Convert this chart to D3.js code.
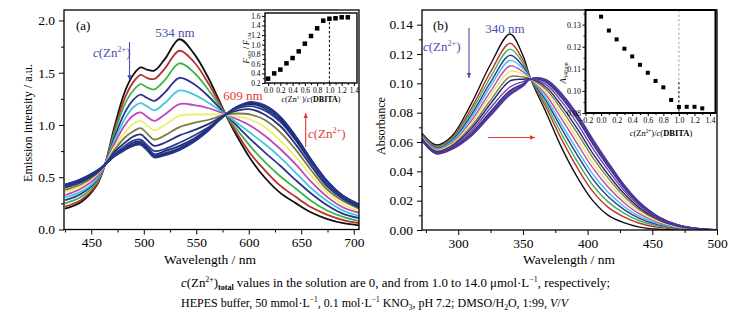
<!DOCTYPE html>
<html>
<head>
<meta charset="utf-8">
<script src="https://cdn.jsdelivr.net/npm/d3@7"></script>
<style>
  body { margin: 0; background: #fff; }
  svg { font-family: "Liberation Serif", "Times New Roman", serif; }
</style>
</head>
<body>
<svg id="chart" width="739" height="320"></svg>
<script>
// ---- panel (a): emission spectra ----
const wlA = [425, 440, 455, 463, 472, 482, 490, 497, 503, 510, 520, 534, 548, 562, 578, 590, 602, 615, 630, 645, 660, 675, 690, 705];
const emission = [
  [.20, .26, .42, .62, .98, 1.32, 1.48, 1.55, 1.53, 1.52, 1.63, 1.82, 1.68, 1.44, 1.10, .87, .67, .50, .35, .25, .16, .10, .06, .04],
  [.22, .28, .43, .62, .95, 1.26, 1.41, 1.48, 1.45, 1.44, 1.54, 1.71, 1.60, 1.39, 1.10, .90, .72, .57, .42, .31, .21, .14, .09, .06],
  [.25, .31, .45, .62, .92, 1.20, 1.33, 1.39, 1.36, 1.34, 1.43, 1.59, 1.50, 1.33, 1.10, .94, .79, .65, .51, .39, .27, .18, .12, .08],
  [.28, .34, .47, .62, .88, 1.12, 1.24, 1.29, 1.26, 1.23, 1.31, 1.45, 1.39, 1.27, 1.10, .98, .86, .74, .61, .47, .34, .23, .15, .11],
  [.31, .36, .48, .62, .85, 1.06, 1.17, 1.21, 1.18, 1.14, 1.21, 1.33, 1.29, 1.21, 1.10, 1.01, .92, .82, .69, .54, .39, .27, .18, .13],
  [.33, .39, .50, .62, .82, 1.00, 1.09, 1.12, 1.08, 1.04, 1.10, 1.20, 1.19, 1.16, 1.10, 1.05, .99, .90, .77, .62, .45, .31, .21, .16],
  [.36, .41, .52, .62, .79, .93, 1.01, 1.04, 1.00, .95, 1.00, 1.09, 1.10, 1.10, 1.10, 1.08, 1.05, .98, .85, .69, .51, .35, .24, .18],
  [.38, .43, .53, .62, .76, .88, .94, .97, .92, .86, .90, .98, 1.02, 1.05, 1.10, 1.11, 1.10, 1.05, .93, .76, .56, .38, .27, .20],
  [.40, .45, .54, .62, .74, .83, .89, .91, .86, .80, .83, .90, .95, 1.01, 1.10, 1.14, 1.15, 1.10, .99, .81, .60, .41, .29, .21],
  [.41, .46, .55, .62, .72, .80, .85, .86, .81, .75, .77, .83, .90, .98, 1.10, 1.16, 1.18, 1.14, 1.03, .85, .63, .43, .30, .23],
  [.42, .47, .55, .62, .71, .78, .83, .84, .79, .72, .75, .80, .87, .97, 1.10, 1.17, 1.20, 1.16, 1.05, .86, .64, .45, .31, .23],
  [.42, .48, .56, .62, .71, .77, .81, .83, .78, .71, .73, .78, .86, .96, 1.10, 1.17, 1.21, 1.18, 1.07, .88, .65, .45, .32, .24],
  [.43, .48, .56, .62, .70, .77, .81, .82, .77, .70, .72, .77, .85, .96, 1.10, 1.18, 1.21, 1.18, 1.07, .88, .66, .46, .32, .24],
  [.43, .48, .56, .62, .70, .76, .80, .81, .76, .69, .71, .76, .84, .95, 1.10, 1.18, 1.22, 1.19, 1.08, .89, .66, .46, .32, .24]
];
const colorsA = ["#111111", "#b8302e", "#3cb44b", "#2b3590", "#45c6dc", "#c045c0", "#eeee6a", "#7c7c44",
                 "#26307c", "#2c3d95", "#1f2c6e", "#2b4190", "#1b2a72", "#24398a"];
const ticksAx = [450, 500, 550, 600, 650, 700];
const minorAx = [425, 475, 525, 575, 625, 675];
const ticksAy = [0, 0.5, 1.0, 1.5, 2.0];
const minorAy = [0.25, 0.75, 1.25, 1.75];

// inset (a): F609/F534 vs c(Zn)/c(DBITA)
const ratioX = [0, 0.1, 0.2, 0.3, 0.4, 0.5, 0.6, 0.7, 0.8, 0.9, 1.0, 1.1, 1.2, 1.3];
const ratioY = [0.29, 0.40, 0.48, 0.61, 0.72, 0.86, 1.02, 1.18, 1.34, 1.50, 1.54, 1.55, 1.57, 1.57];
const insetAxTicks = [0, 0.2, 0.4, 0.6, 0.8, 1.0, 1.2, 1.4];
const insetAyTicks = [0.2, 0.4, 0.6, 0.8, 1.0, 1.2, 1.4, 1.6];

// ---- panel (b): absorption spectra ----
const wlB = [272, 283, 295, 310, 325, 340, 350, 356, 368, 380, 392, 404, 416, 428, 440, 455, 470, 485, 500];
const absorbance = [
  [.0660, .0580, .0640, .0860, .1130, .1336, .1190, .1030, .0800, .0560, .0360, .0200, .0100, .0050, .0020, .0005, 0, 0, 0],
  [.0653, .0571, .0627, .0827, .1078, .1273, .1159, .1030, .0834, .0616, .0425, .0263, .0154, .0089, .0046, .0018, .0005, .0002, 0],
  [.0648, .0565, .0618, .0805, .1043, .1233, .1138, .1030, .0856, .0653, .0468, .0305, .0190, .0115, .0063, .0026, .0009, .0003, 0],
  [.0643, .0559, .0609, .0783, .1008, .1191, .1117, .1030, .0879, .0690, .0511, .0347, .0226, .0141, .0080, .0035, .0012, .0004, 0],
  [.0639, .0554, .0601, .0765, .0980, .1156, .1100, .1030, .0897, .0719, .0545, .0381, .0255, .0162, .0093, .0042, .0015, .0004, 0],
  [.0634, .0548, .0592, .0743, .0945, .1118, .1079, .1030, .0919, .0756, .0588, .0423, .0291, .0188, .0110, .0050, .0019, .0005, 0],
  [.0630, .0543, .0585, .0726, .0917, .1082, .1062, .1030, .0937, .0786, .0622, .0456, .0320, .0209, .0124, .0057, .0021, .0006, 0],
  [.0625, .0538, .0577, .0706, .0885, .1045, .1043, .1030, .0958, .0819, .0661, .0494, .0352, .0232, .0139, .0065, .0025, .0007, 0],
  [.0622, .0534, .0571, .0691, .0861, .1016, .1028, .1030, .0973, .0845, .0691, .0523, .0377, .0250, .0151, .0070, .0027, .0008, 0],
  [.0618, .0529, .0564, .0673, .0833, .0975, .1012, .1030, .0991, .0875, .0726, .0557, .0406, .0271, .0165, .0077, .0030, .0009, 0],
  [.0614, .0525, .0557, .0658, .0808, .0950, .0997, .1030, .1007, .0900, .0756, .0586, .0431, .0289, .0176, .0083, .0032, .0009, 0],
  [.0613, .0523, .0555, .0651, .0798, .0940, .0990, .1030, .1014, .0912, .0769, .0599, .0442, .0297, .0182, .0086, .0033, .0010, 0],
  [.0611, .0521, .0552, .0644, .0787, .0928, .0984, .1030, .1021, .0923, .0781, .0612, .0453, .0305, .0187, .0088, .0034, .0010, 0],
  [.0610, .0520, .0550, .0640, .0780, .0921, .0980, .1030, .1025, .0930, .0790, .0620, .0460, .0310, .0190, .0090, .0035, .0010, .0002]
];
const colorsB = ["#111111", "#c03232", "#3cb44b", "#2b3a9c", "#45c0e0", "#c045c0", "#e8e866", "#808044",
                 "#22287e", "#7440a0", "#2e2e86", "#5a3094", "#3c3c9c", "#50389a"];
const ticksBx = [300, 350, 400, 450, 500];
const minorBx = [275, 325, 375, 425, 475];
const ticksBy = [0, 0.02, 0.04, 0.06, 0.08, 0.10, 0.12, 0.14];
const minorBy = [0.01, 0.03, 0.05, 0.07, 0.09, 0.11, 0.13];

// inset (b): A340 vs c(Zn)/c(DBITA)
const a340X = [0, 0.1, 0.2, 0.3, 0.4, 0.5, 0.6, 0.7, 0.8, 0.9, 1.0, 1.1, 1.2, 1.3];
const a340Y = [0.1336, 0.1273, 0.1233, 0.1191, 0.1156, 0.1118, 0.1082, 0.1045, 0.1016, 0.0959, 0.0927, 0.0928, 0.0928, 0.0921];
const insetBxTicks = [-0.2, 0, 0.2, 0.4, 0.6, 0.8, 1.0, 1.2, 1.4];
const insetByTicks = [0.09, 0.10, 0.11, 0.12, 0.13];
const insetByLabels = ["0.08", "0.10", "0.11", "0.12", "0.13"]; // as printed

const svg = d3.select("#chart");

// small helper for text with italics / super / subscripts
function rich(sel, parts, size) {
  parts.forEach(p => {
    const ts = sel.append("tspan").text(p.t);
    if (p.i) ts.attr("font-style", "italic");
    if (p.b) ts.attr("font-weight", "bold");
    if (p.sup) ts.attr("baseline-shift", size * 0.38).attr("font-size", size * 0.62);
    if (p.sub) ts.attr("baseline-shift", -size * 0.22).attr("font-size", size * 0.62);
  });
  return sel;
}

function axisStyle(g, fs) {
  g.attr("font-family", "Liberation Serif");
  g.select(".domain").remove();
  g.selectAll(".tick line").attr("stroke", "#000");
  g.selectAll(".tick text").attr("font-size", fs).attr("fill", "#000");
}

function drawPanel(cfg) {
  const x = d3.scaleLinear().domain(cfg.xDomain).range([cfg.left, cfg.right]);
  const y = d3.scaleLinear().domain(cfg.yDomain).range([cfg.bottom, cfg.top]);
  const g = svg.append("g");

  svg.append("clipPath").attr("id", cfg.id + "clip").append("rect")
    .attr("x", cfg.left).attr("y", cfg.top)
    .attr("width", cfg.right - cfg.left).attr("height", cfg.bottom - cfg.top);

  const line = d3.line()
    .x((d, i) => x(cfg.wl[i]))
    .y(d => y(d))
    .curve(d3.curveCatmullRom.alpha(0.5));

  g.append("g").attr("clip-path", `url(#${cfg.id}clip)`)
    .selectAll("path").data(cfg.series).join("path")
    .attr("d", line)
    .attr("fill", "none")
    .attr("stroke", (d, i) => cfg.colors[i])
    .attr("stroke-width", cfg.lw)
    .attr("stroke-linejoin", "round");

  // axes
  g.append("g").attr("transform", `translate(0,${cfg.bottom})`)
    .call(d3.axisBottom(x).tickValues(cfg.xMinor).tickSize(3).tickSizeOuter(0).tickFormat(""))
    .call(a => axisStyle(a, 13.5));
  g.append("g").attr("transform", `translate(0,${cfg.bottom})`)
    .call(d3.axisBottom(x).tickValues(cfg.xTicks).tickSize(5).tickPadding(3).tickSizeOuter(0).tickFormat(d3.format("d")))
    .call(a => axisStyle(a, 13.5));
  g.append("g").attr("transform", `translate(${cfg.left},0)`)
    .call(d3.axisLeft(y).tickValues(cfg.yMinor).tickSize(3).tickSizeOuter(0).tickFormat(""))
    .call(a => axisStyle(a, 13.5));
  g.append("g").attr("transform", `translate(${cfg.left},0)`)
    .call(d3.axisLeft(y).tickValues(cfg.yTicks).tickSize(5).tickPadding(4).tickSizeOuter(0).tickFormat(cfg.yFmt))
    .call(a => axisStyle(a, 13.5));

  g.append("rect")
    .attr("x", cfg.left).attr("y", cfg.top)
    .attr("width", cfg.right - cfg.left).attr("height", cfg.bottom - cfg.top)
    .attr("fill", "none").attr("stroke", "#000").attr("stroke-width", 1.3);

  g.append("text")
    .attr("x", cfg.xTitleX).attr("y", 263.5)
    .attr("text-anchor", "middle").attr("font-size", 13.5)
    .text("Wavelength / nm");
  g.append("text")
    .attr("transform", `translate(${cfg.yTitleX},${cfg.yTitleY}) rotate(-90)`)
    .attr("text-anchor", "middle").attr("font-size", 13.5)
    .attr("textLength", cfg.yTitleLen).attr("lengthAdjust", "spacingAndGlyphs")
    .text(cfg.yTitle);

  return { x, y };
}

function drawInset(cfg) {
  const x = d3.scaleLinear().domain(cfg.xDomain).range([cfg.left, cfg.right]);
  const y = d3.scaleLinear().domain(cfg.yDomain).range([cfg.bottom, cfg.top]);
  const g = svg.append("g");
  const fs = cfg.fs;
  g.append("rect")
    .attr("x", cfg.left).attr("y", cfg.top)
    .attr("width", cfg.right - cfg.left).attr("height", cfg.bottom - cfg.top)
    .attr("fill", "#fff");

  // dashed guide at ratio 1.0
  cfg.guides.forEach(gd => {
    g.append("line")
      .attr("x1", x(1.0)).attr("x2", x(1.0))
      .attr("y1", y(gd.from)).attr("y2", y(gd.to))
      .attr("stroke", gd.color).attr("stroke-width", 1).attr("stroke-dasharray", "2.5,2");
  });

  g.append("g").attr("transform", `translate(0,${cfg.bottom})`)
    .call(d3.axisBottom(x).tickValues(cfg.xMinor).tickSize(2).tickSizeOuter(0).tickFormat(""))
    .call(a => axisStyle(a, fs));
  g.append("g").attr("transform", `translate(0,${cfg.bottom})`)
    .call(d3.axisBottom(x).tickValues(cfg.xTicks).tickSize(3).tickPadding(1.5).tickSizeOuter(0).tickFormat(d3.format(".1f")))
    .call(a => axisStyle(a, fs));
  g.append("g").attr("transform", `translate(${cfg.left},0)`)
    .call(d3.axisLeft(y).tickValues(cfg.yMinor).tickSize(2).tickSizeOuter(0).tickFormat(""))
    .call(a => axisStyle(a, fs));
  g.append("g").attr("transform", `translate(${cfg.left},0)`)
    .call(d3.axisLeft(y).tickValues(cfg.yTicks).tickSize(3).tickPadding(1.5).tickSizeOuter(0).tickFormat(cfg.fmt))
    .call(a => axisStyle(a, fs));

  g.selectAll("rect.pt").data(cfg.xs).join("rect")
    .attr("class", "pt")
    .attr("x", d => x(d) - cfg.ms / 2)
    .attr("y", (d, i) => y(cfg.ys[i]) - cfg.ms / 2)
    .attr("width", cfg.ms).attr("height", cfg.ms)
    .attr("fill", "#000");

  g.append("rect")
    .attr("x", cfg.left).attr("y", cfg.top)
    .attr("width", cfg.right - cfg.left).attr("height", cfg.bottom - cfg.top)
    .attr("fill", "none").attr("stroke", "#000").attr("stroke-width", cfg.border);

  const xt = g.append("text")
    .attr("x", cfg.xTitleX).attr("y", cfg.xTitleY)
    .attr("text-anchor", "middle").attr("font-size", fs + 0.5);
  rich(xt, [{ t: "c", i: true }, { t: "(Zn" }, { t: "2+", sup: true }, { t: ")/" },
            { t: "c", i: true }, { t: "(" }, { t: "DBITA", b: true }, { t: ")" }], fs + 0.5);

  const yt = g.append("text")
    .attr("transform", `translate(${cfg.yTitleX},${cfg.yTitleY}) rotate(-90)`)
    .attr("text-anchor", "middle").attr("font-size", fs + 0.5);
  rich(yt, cfg.yTitle, fs + 0.5);
  return { x, y };
}

function arrow(x1, y1, x2, y2, color) {
  const ang = Math.atan2(y2 - y1, x2 - x1);
  svg.append("line")
    .attr("x1", x1).attr("y1", y1).attr("x2", x2).attr("y2", y2)
    .attr("stroke", color).attr("stroke-width", 1.1);
  const h = 5, w = 2.2;
  const p = [
    [x2, y2],
    [x2 - h * Math.cos(ang) + w * Math.sin(ang), y2 - h * Math.sin(ang) - w * Math.cos(ang)],
    [x2 - h * Math.cos(ang) - w * Math.sin(ang), y2 - h * Math.sin(ang) + w * Math.cos(ang)]
  ];
  svg.append("path").attr("d", "M" + p.join("L") + "Z").attr("fill", color);
}

function label(x, y, parts, color, size, anchor) {
  const t = svg.append("text").attr("x", x).attr("y", y)
    .attr("fill", color).attr("font-size", size).attr("text-anchor", anchor || "start");
  rich(t, parts, size);
  return t;
}

const znParts = [{ t: "c", i: true }, { t: "(Zn" }, { t: "2+", sup: true }, { t: ")" }];
const blue = "#4b4fae", red = "#e23a36";

// ---------- panel (a) ----------
drawPanel({
  id: "a", left: 64, right: 359, top: 10, bottom: 229.5,
  xDomain: [424, 705], yDomain: [0, 2.1],
  wl: wlA, series: emission, colors: colorsA, lw: 1.8,
  xTicks: ticksAx, xMinor: minorAx, yTicks: ticksAy, yMinor: minorAy,
  yFmt: d3.format(".1f"),
  xTitleX: 210, yTitle: "Emission intensity / a.u.", yTitleX: 32, yTitleY: 123, yTitleLen: 118
});

drawInset({
  left: 265, right: 357, top: 13, bottom: 83, fs: 7.5,
  xDomain: [-0.05, 1.45], yDomain: [0.2, 1.66],
  xTicks: insetAxTicks, xMinor: [0.1, 0.3, 0.5, 0.7, 0.9, 1.1, 1.3],
  yTicks: insetAyTicks, yMinor: [0.3, 0.5, 0.7, 0.9, 1.1, 1.3, 1.5],
  fmt: d3.format(".1f"),
  xs: ratioX, ys: ratioY, ms: 4.5, border: 1.4,
  guides: [{ from: 0.2, to: 1.54, color: "#000" }],
  xTitleX: 311, xTitleY: 102,
  yTitleX: 249, yTitleY: 48,
  yTitle: [{ t: "F", i: true }, { t: "609", sub: true }, { t: " / " }, { t: "F", i: true }, { t: "534", sub: true }]
});

svg.append("text").attr("x", 76).attr("y", 30).attr("font-size", 13).text("(a)");
label(175, 37, [{ t: "534 nm" }], blue, 13, "middle");
label(93, 57, znParts, blue, 13);
arrow(129.5, 42, 129.5, 80, blue);
label(243, 100, [{ t: "609 nm" }], red, 13, "middle");
arrow(305.7, 147, 305.7, 113, red);
label(308, 138, znParts, red, 13);

// ---------- panel (b) ----------
drawPanel({
  id: "b", left: 422, right: 717, top: 10, bottom: 230,
  xDomain: [272, 500], yDomain: [0, 0.15],
  wl: wlB, series: absorbance, colors: colorsB, lw: 1.4,
  xTicks: ticksBx, xMinor: minorBx, yTicks: ticksBy, yMinor: minorBy,
  yFmt: d3.format(".2f"),
  xTitleX: 569, yTitle: "Absorbance", yTitleX: 385, yTitleY: 126, yTitleLen: 58
});

drawInset({
  left: 585.5, right: 715.5, top: 10, bottom: 113, fs: 8,
  xDomain: [-0.2, 1.47], yDomain: [0.09, 0.1366],
  xTicks: insetBxTicks, xMinor: [-0.1, 0.1, 0.3, 0.5, 0.7, 0.9, 1.1, 1.3],
  yTicks: insetByTicks, yMinor: [0.095, 0.105, 0.115, 0.125, 0.135],
  fmt: (d, i) => insetByLabels[i],
  xs: a340X, ys: a340Y, ms: 4, border: 2,
  guides: [{ from: 0.1366, to: 0.104, color: "#aaa" }, { from: 0.104, to: 0.09, color: "#000" }],
  xTitleX: 661, xTitleY: 136,
  yTitleX: 566, yTitleY: 73,
  yTitle: [{ t: "A", i: true }, { t: "340 nm", sub: true }]
});

svg.append("text").attr("x", 433).attr("y", 30).attr("font-size", 13).text("(b)");
label(505, 33, [{ t: "340 nm" }], blue, 13, "middle");
label(423, 51, znParts, blue, 13);
arrow(469, 28, 469, 78, blue);
arrow(488, 137.5, 535, 137.5, red);

// ---------- caption ----------
const cap1 = svg.append("text").attr("x", 181).attr("y", 287).attr("font-size", 12.3)
  .attr("textLength", 429).attr("lengthAdjust", "spacingAndGlyphs");
rich(cap1, [{ t: "c", i: true }, { t: "(Zn" }, { t: "2+", sup: true }, { t: ")" }, { t: "total", sub: true, b: true },
            { t: " values in the solution are 0, and from 1.0 to 14.0 μmol·L" }, { t: "−1", sup: true },
            { t: ", respectively;" }], 12.3);
const cap2 = svg.append("text").attr("x", 181).attr("y", 307).attr("font-size", 12.3)
  .attr("textLength", 387).attr("lengthAdjust", "spacingAndGlyphs");
rich(cap2, [{ t: "HEPES buffer, 50 mmol·L" }, { t: "−1", sup: true }, { t: ", 0.1 mol·L" }, { t: "−1", sup: true },
            { t: " KNO" }, { t: "3", sub: true }, { t: ", pH 7.2; DMSO/H" }, { t: "2", sub: true }, { t: "O, 1:99, " },
            { t: "V", i: true }, { t: "/" }, { t: "V", i: true }], 12.3);
</script>
</body>
</html>
